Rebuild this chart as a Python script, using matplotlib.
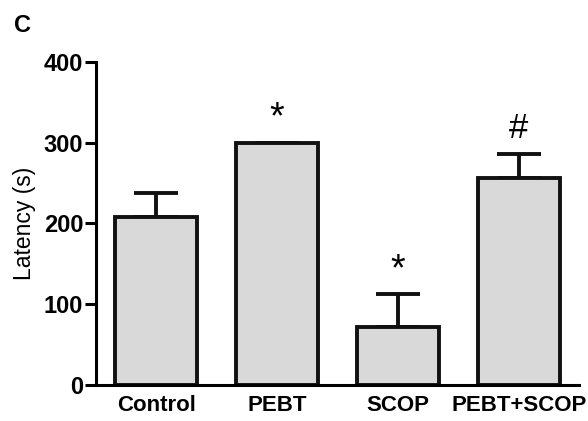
import numpy as np
from matplotlib import pyplot as plt

groups = ['Control', 'PEBT', 'SCOP', 'PEBT+SCOP']
latency = [208, 300, 72, 256]
sem = [29, 0, 41, 30]
marks = ['', '*', '*', '#']

plt.rcParams['font.family'] = ['Liberation Sans', 'DejaVu Sans']

fig = plt.figure(figsize=(5.88, 4.21), dpi=100)
ax = fig.add_axes([0.163, 0.0855, 0.822, 0.768])

x = np.arange(len(groups))
ax.bar(x, latency, width=0.68, color='#d9d9d9', edgecolor='#111111', linewidth=2.8, zorder=2)
ax.errorbar(x, latency, yerr=[np.zeros(len(sem)), sem], fmt='none', ecolor='#111111',
            elinewidth=2.8, capsize=16, capthick=2.8, zorder=1)

for xi, val, err, m in zip(x, latency, sem, marks):
    if m == '*':
        ax.text(xi, val + err + 17, m, ha='center', va='baseline', fontsize=27)
    elif m == '#':
        ax.text(xi, val + err + 20, m, ha='center', va='baseline', fontsize=25)

ax.set_xlim(-0.5, 3.5)
ax.set_ylim(0, 400)
ax.set_yticks([0, 100, 200, 300, 400])
ax.set_xticks(x)
ax.set_xticklabels(groups, fontsize=16, fontweight='bold')
ax.tick_params(axis='x', length=0, pad=7)
ax.tick_params(axis='y', length=8, width=2.2, labelsize=17, pad=1)
for lab in ax.get_yticklabels():
    lab.set_fontweight('bold')
ax.spines['top'].set_visible(False)
ax.spines['right'].set_visible(False)
ax.spines['left'].set_linewidth(2.2)
ax.spines['bottom'].set_linewidth(2.2)
ax.set_ylabel('Latency (s)', fontsize=16.5, labelpad=6)

fig.text(0.024, 0.925, 'C', fontsize=17, fontweight='bold')

fig.savefig('out.png', dpi=100)
